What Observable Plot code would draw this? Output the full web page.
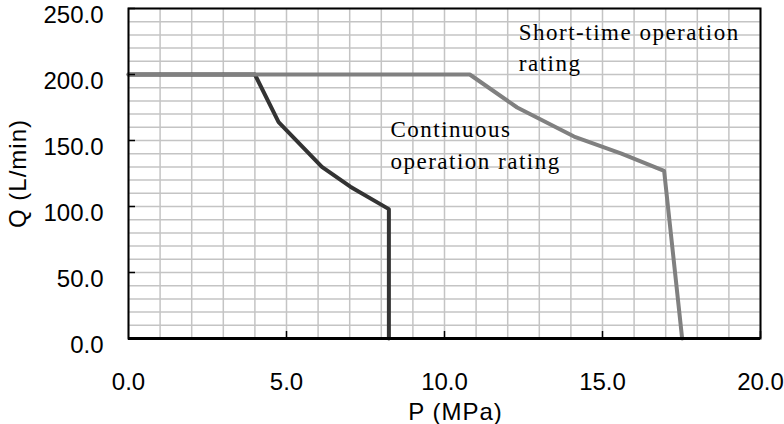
<!DOCTYPE html>
<html><head><meta charset="utf-8">
<script src="https://cdn.jsdelivr.net/npm/d3@7"></script>
<script src="https://cdn.jsdelivr.net/npm/@observablehq/plot@0.6"></script>
<style>body{margin:0;background:#fff}</style>
</head><body><div id="chart"></div>
<script>
const shortP = [0, 10.8, 12.3, 14.1, 15.6, 16.95, 17.52];
const shortQ = [200, 200, 175, 153, 140, 127, 0];
const contP = [0, 4.0, 4.75, 6.12, 7.02, 8.24, 8.24];
const contQ = [200, 200, 164, 130, 115, 98, 0];
const xTicks = [0, 5, 10, 15, 20];
const yTicks = [0, 50, 100, 150, 200, 250];
const xGrid = d3.range(0, 21, 1);
const yGrid = d3.range(0, 251, 10);
const noteText = ["Short-time operation\nrating", "Continuous\noperation rating"];
const noteP = [12.35, 8.29];
const noteQ = [243, 169];

const shortData = shortP.map((p, i) => ({p, q: shortQ[i]}));
const contData = contP.map((p, i) => ({p, q: contQ[i]}));
const notes = noteText.map((t, i) => ({t, p: noteP[i], q: noteQ[i]}));
const fmt = d => d.toFixed(1);

const chart = Plot.plot({
  width: 784, height: 424,
  marginLeft: 128, marginRight: 24, marginTop: 8, marginBottom: 86,
  style: {fontFamily: "'Liberation Sans', Arial, sans-serif", background: "#fff", color: "#000"},
  x: {domain: [0, 20]},
  y: {domain: [0, 250]},
  marks: [
    Plot.gridX(xGrid, {stroke: "#c4c4c4", strokeOpacity: 1, strokeWidth: 1.5}),
    Plot.gridY(yGrid, {stroke: "#c4c4c4", strokeOpacity: 1, strokeWidth: 1.5}),
    Plot.line(contData, {x: "p", y: "q", stroke: "#333333", strokeWidth: 4}),
    Plot.line(shortData, {x: "p", y: "q", stroke: "#808080", strokeWidth: 4}),
    Plot.frame({stroke: "#000", strokeWidth: 2}),
    Plot.ruleY([0], {stroke: "#000", strokeWidth: 3}),
    Plot.axisX(xTicks.slice(1), {tickSize: -7, tickFormat: () => "", label: null, strokeWidth: 1.5}),
    Plot.axisX(xTicks, {tickSize: 0, tickPadding: 34, tickFormat: fmt, fontSize: 24, label: null}),
    Plot.axisY(yTicks.slice(1), {tickSize: -7, tickFormat: () => "", label: null, strokeWidth: 1.5}),
    Plot.axisY(yTicks, {tickSize: 0, tickPadding: 25, dy: 7, tickFormat: fmt, fontSize: 24,
      label: "Q (L/min)", labelAnchor: "center", labelOffset: 120, labelArrow: "none"}),
    Plot.text(["P (MPa)"], {frameAnchor: "bottom", dx: 11, dy: 64, lineAnchor: "top", fontSize: 24}),
    Plot.text(notes, {x: "p", y: "q", text: "t", textAnchor: "start", lineAnchor: "top",
      fontFamily: "'Liberation Serif', 'Times New Roman', serif", fontSize: 23, lineHeight: 1.35})
  ]
});
chart.querySelectorAll("text").forEach(t => {
  if (/Continuous|Short-time/.test(t.textContent)) t.style.letterSpacing = "1.5px";
  if (/L\/min|MPa/.test(t.textContent)) t.style.letterSpacing = "1px";
});
document.getElementById("chart").appendChild(chart);
</script>
</body></html>
